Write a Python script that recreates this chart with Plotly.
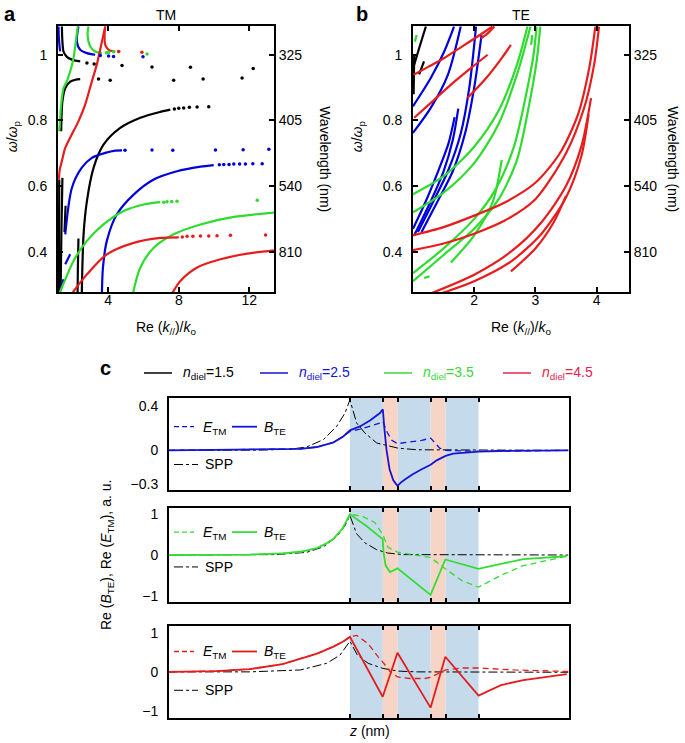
import plotly.graph_objects as go

W, H = 685, 743
FONT = "Liberation Sans, Arial, sans-serif"

BLACK, BLUE, GREEN, RED = "#000000", "#0000dc", "#2edc2e", "#e81c1c"

# ---------------- Panel a (TM): Re(k//)/ko vs w/wp ----------------
tm_black_1_k = [2.50, 2.60, 2.79, 3.17, 3.73, 4.68, 5.82, 6.95, 7.52]
tm_black_1_w = [0.273, 0.453, 0.554, 0.656, 0.726, 0.777, 0.808, 0.826, 0.833]
tm_black_1_dots_k = [7.75, 8.0, 8.28, 8.6, 9.04, 9.70]
tm_black_1_dots_w = [0.835, 0.837, 0.838, 0.840, 0.841, 0.842]
tm_black_2_k = [2.26, 2.28, 2.31]
tm_black_2_w = [0.273, 0.36, 0.44]
tm_black_3_k = [1.33, 1.40, 1.56, 1.84, 2.13, 2.41]
tm_black_3_w = [0.767, 0.858, 0.898, 0.918, 0.924, 0.926]
tm_black_3_dots_k = [3.45, 4.11, 7.71, 9.38, 11.59]
tm_black_3_dots_w = [0.926, 0.922, 0.922, 0.926, 0.929]
tm_black_4_k = [1.37, 1.40, 1.46, 1.60, 1.74, 2.13, 2.41]
tm_black_4_w = [1.086, 1.04, 1.010, 0.997, 0.990, 0.982, 0.980]
tm_black_4_dots_k = [2.79, 3.2, 4.78, 6.48, 8.66, 12.22]
tm_black_4_dots_w = [0.975, 0.972, 0.967, 0.963, 0.962, 0.958]
tm_black_5_k = [1.20, 1.21, 1.22]
tm_black_5_w = [0.276, 0.45, 0.62]
tm_black_6_k = [1.30, 1.34, 1.40]
tm_black_6_w = [0.28, 0.45, 0.625]
tm_black_7_k = [1.52, 1.58]
tm_black_7_w = [0.46, 0.54]

tm_blue_1_k = [3.64, 3.70, 3.92, 4.49, 5.44, 6.58, 7.90, 9.23, 9.98]
tm_blue_1_w = [0.273, 0.352, 0.433, 0.514, 0.574, 0.620, 0.645, 0.659, 0.664]
tm_blue_1_dots_k = [10.3, 10.55, 10.85, 11.12, 11.45, 11.78, 12.2, 12.73]
tm_blue_1_dots_w = [0.665, 0.666, 0.666, 0.667, 0.667, 0.667, 0.668, 0.668]
tm_blue_2_k = [1.56, 1.94, 2.50, 3.07, 3.83, 4.40, 4.78]
tm_blue_2_w = [0.453, 0.595, 0.656, 0.686, 0.701, 0.708, 0.709]
tm_blue_2_dots_k = [4.95, 6.48, 7.66, 10.08, 11.65, 13.11]
tm_blue_2_dots_w = [0.709, 0.710, 0.709, 0.710, 0.711, 0.712]
tm_blue_3_k = [1.56, 1.84]
tm_blue_3_w = [0.362, 0.392]
tm_blue_4_k = [1.18, 1.27, 1.46]
tm_blue_4_w = [0.276, 0.28, 0.316]
tm_blue_5_k = [1.18, 1.20, 1.27]
tm_blue_5_w = [1.086, 1.05, 1.01]
tm_blue_6_k = [2.31, 2.22, 2.41, 2.79, 3.26]
tm_blue_6_w = [1.086, 1.040, 1.015, 1.005, 1.0]
tm_blue_6_dots_k = [3.55, 4.02, 4.30, 5.97]
tm_blue_6_dots_w = [0.998, 0.996, 0.995, 0.994]

tm_green_1_k = [1.25, 1.37, 2.03, 2.79, 3.73, 4.87, 6.01, 6.95]
tm_green_1_w = [0.276, 0.291, 0.372, 0.433, 0.483, 0.524, 0.544, 0.551]
tm_green_1_dots_k = [7.15, 7.33, 7.6, 7.90, 12.45]
tm_green_1_dots_w = [0.551, 0.552, 0.553, 0.554, 0.557]
tm_green_2_k = [5.40, 5.82, 6.58, 7.71, 9.23, 11.12, 13.43]
tm_green_2_w = [0.273, 0.352, 0.412, 0.453, 0.483, 0.506, 0.519]
tm_green_3_k = [1.22, 1.27, 1.30, 1.33, 1.46, 1.65, 1.84, 2.03, 2.16, 2.27]
tm_green_3_w = [0.767, 0.80, 0.83, 0.848, 0.898, 0.919, 0.949, 0.990, 1.040, 1.086]
tm_green_4_k = [2.88, 2.83, 2.98, 3.26, 3.64]
tm_green_4_w = [1.086, 1.061, 1.025, 1.010, 1.005]
tm_green_4_dots_k = [3.9, 4.02, 4.30, 4.59, 6.2]
tm_green_4_dots_w = [1.006, 1.008, 1.009, 1.01, 1.002]

tm_red_1_k = [1.20, 1.25, 1.37, 1.56, 1.93, 2.31, 2.69, 3.07, 3.35, 3.64, 3.83]
tm_red_1_w = [0.62, 0.65, 0.676, 0.716, 0.757, 0.797, 0.848, 0.919, 0.97, 1.04, 1.086]
tm_red_2_k = [3.83, 3.79, 3.83, 4.02, 4.40]
tm_red_2_w = [1.086, 1.061, 1.030, 1.015, 1.010]
tm_red_2_dots_k = [4.59, 5.91]
tm_red_2_dots_w = [1.01, 1.008]
tm_red_3_k = [1.94, 2.79, 3.92, 5.44, 6.95, 8.0]
tm_red_3_w = [0.273, 0.331, 0.392, 0.427, 0.442, 0.444]
tm_red_3_dots_k = [8.2, 8.47, 8.8, 9.23, 9.7, 10.17, 10.93, 12.92]
tm_red_3_dots_w = [0.445, 0.447, 0.447, 0.448, 0.448, 0.449, 0.450, 0.451]
tm_red_4_k = [7.62, 8.09, 9.04, 10.36, 11.88, 13.43]
tm_red_4_w = [0.273, 0.311, 0.352, 0.377, 0.394, 0.404]

# ---------------- Panel b (TE) ----------------
te_black_1_k = [1.02, 1.10, 1.21]
te_black_1_w = [0.97, 1.02, 1.086]
te_black_2_k = [1.10, 1.18]
te_black_2_w = [0.94, 0.98]
te_black_3_k = [1.01, 1.02]
te_black_3_w = [0.88, 1.0]

te_blue_1_k = [1.0, 1.29, 1.51, 1.67]
te_blue_1_w = [0.843, 0.929, 1.010, 1.086]
te_blue_2_k = [1.0, 1.29, 1.57, 1.78]
te_blue_2_w = [0.762, 0.838, 0.939, 1.086]
te_blue_3_k = [1.02, 1.29, 1.50, 1.65, 1.74]
te_blue_3_w = [0.45, 0.554, 0.645, 0.74, 0.836]
te_blue_4_k = [1.00, 1.20, 1.41, 1.58, 1.68]
te_blue_4_w = [0.47, 0.55, 0.645, 0.73, 0.81]
te_blue_5_k = [1.08, 1.35, 1.57, 1.78, 1.92, 2.03]
te_blue_5_w = [0.46, 0.56, 0.645, 0.76, 0.90, 1.086]
te_blue_6_k = [1.14, 1.42, 1.65, 1.85, 2.00, 2.12]
te_blue_6_w = [0.46, 0.56, 0.645, 0.76, 0.90, 1.06]

te_red_1_k = [1.01, 1.25, 1.51, 1.8, 2.05, 2.3]
te_red_1_w = [0.939, 0.963, 0.99, 1.025, 1.055, 1.086]
te_red_2_k = [1.02, 1.3, 1.62, 1.95, 2.22]
te_red_2_w = [0.808, 0.855, 0.909, 0.96, 1.0]
te_red_3_k = [1.89, 2.2, 2.45, 2.60]
te_red_3_w = [0.868, 0.93, 0.99, 1.03]
te_red_4_k = [2.11, 2.22, 2.33]
te_red_4_w = [1.05, 1.065, 1.086]
te_red_5_k = [1.0, 1.5, 2.0, 2.5, 3.0, 3.4, 3.7, 3.88, 3.98]
te_red_5_w = [0.45, 0.475, 0.51, 0.55, 0.61, 0.70, 0.82, 0.96, 1.086]
te_red_6_k = [1.0, 1.5, 2.0, 2.5, 3.0, 3.5, 3.8, 3.96, 4.04]
te_red_6_w = [0.405, 0.425, 0.455, 0.495, 0.56, 0.70, 0.84, 0.97, 1.086]
te_red_7_k = [1.29, 2.0, 2.6, 3.1, 3.5, 3.75, 3.91]
te_red_7_w = [0.273, 0.33, 0.40, 0.49, 0.60, 0.72, 0.868]
te_red_8_k = [1.46, 2.0, 2.6, 3.1, 3.5, 3.75, 3.87]
te_red_8_w = [0.273, 0.31, 0.37, 0.455, 0.565, 0.69, 0.818]
te_red_9_k = [2.60, 3.0, 3.3, 3.5]
te_red_9_w = [0.34, 0.41, 0.49, 0.57]

te_green_1_k = [1.0, 1.5, 2.0, 2.4, 2.7, 2.87]
te_green_1_w = [0.575, 0.63, 0.72, 0.83, 0.97, 1.086]
te_green_2_k = [1.0, 1.5, 2.0, 2.4, 2.7, 2.92]
te_green_2_w = [0.52, 0.58, 0.67, 0.79, 0.94, 1.086]
te_green_3_k = [1.0, 1.5, 2.0, 2.4, 2.7, 2.9, 3.02, 3.08]
te_green_3_w = [0.31, 0.39, 0.47, 0.56, 0.68, 0.85, 0.98, 1.086]
te_green_4_k = [1.0, 1.5, 2.0, 2.35, 2.65, 2.85, 2.97, 3.02]
te_green_4_w = [0.335, 0.41, 0.50, 0.59, 0.72, 0.88, 1.0, 1.086]
te_green_5_k = [1.62, 2.0, 2.3, 2.45]
te_green_5_w = [0.367, 0.45, 0.55, 0.68]
te_green_6_k = [1.18, 1.27]
te_green_6_w = [0.32, 0.325]
te_green_7_k = [1.03, 1.06]
te_green_7_w = [1.04, 1.06]
te_green_8_k = [2.93, 2.95]
te_green_8_w = [1.03, 1.06]

omega_ticks = [0.4, 0.6, 0.8, 1.0]
omega_labels = ["0.4", "0.6", "0.8", "1"]
wavelength_labels = ["810", "540", "405", "325"]

# ---------------- Panel c: field profiles ----------------
layer_edges = [0, 22, 32, 54, 64, 86]
layer_kind = ["diel", "metal", "diel", "metal", "diel"]

c1_bte_z = [-121, -67, -33, -22, -11, -4.5, 0, 6.7, 13.4, 20.1, 22, 23, 24.5, 26.5, 29, 31.8,
            34, 37, 42, 48, 54, 58, 64, 69, 86, 100, 120, 146]
c1_bte_v = [0, 0.006, 0.013, 0.03, 0.072, 0.125, 0.18, 0.215, 0.269, 0.335, 0.37, 0.2, 0.0, -0.17,
            -0.27, -0.32, -0.29, -0.26, -0.215, -0.17, -0.13, -0.09, -0.05, -0.03, -0.012, -0.006, -0.002, 0]
c1_etm_z = [-121, -67, -33, -22, -11, -4.5, 0, 6.7, 13.4, 20, 22, 25, 28, 31.8, 40, 48, 54, 57, 60, 64, 86, 146]
c1_etm_v = [0, 0.006, 0.013, 0.03, 0.072, 0.125, 0.17, 0.19, 0.215, 0.245, 0.26, 0.16, 0.09, 0.06,
            0.075, 0.09, 0.11, 0.06, 0.02, 0.0, -0.01, 0]
c1_spp_z = [-121, -60, -40, -29, -17.8, -8.9, -3.3, 0, 4.5, 10, 17.9, 22.4, 32, 45, 146]
c1_spp_v = [0, 0.002, 0.01, 0.03, 0.096, 0.215, 0.335, 0.454, 0.245, 0.156, 0.066, 0.05, 0.02, 0.005, 0]

c2_bte_z = [-121, -67, -45, -33, -22, -15, -11, -5, 0, 10.8, 21.9, 22.5, 23.9, 26.8, 31.8, 53.9, 63.8, 86,
            101, 116, 145]
c2_bte_v = [0, 0.01, 0.04, 0.08, 0.17, 0.3, 0.4, 0.65, 1.0, 0.72, 0.39, 0.05, -0.26, -0.42, -0.33, -0.98,
            -0.11, -0.34, -0.22, -0.10, -0.03]
c2_etm_z = [-121, -67, -45, -33, -22, -15, -11, -5, 0, 7.9, 16.6, 21.9, 25.4, 31.8, 39.9, 53.9, 63.8, 74.9,
            86, 101, 116, 145]
c2_etm_v = [0, 0.01, 0.04, 0.08, 0.17, 0.3, 0.4, 0.65, 1.0, 0.96, 0.80, 0.51, 0.19, 0.07, 0.02, -0.06,
            -0.34, -0.63, -0.79, -0.50, -0.26, -0.03]
c2_spp_z = [-121, -50, -29, -17.8, -8.9, -3.3, 0, 4.5, 10, 17.9, 25, 35, 146]
c2_spp_v = [0, 0.01, 0.065, 0.2, 0.45, 0.72, 0.97, 0.52, 0.3, 0.13, 0.05, 0.01, 0]

c3_bte_z = [-121, -90, -67, -45, -22, -11, -4.5, 0, 21.9, 31.8, 53.9, 63.8, 86, 101, 116, 145]
c3_bte_v = [0, 0.02, 0.07, 0.2, 0.47, 0.65, 0.78, 0.9, -0.64, 0.49, -0.92, 0.39, -0.61, -0.34, -0.21, -0.06]
c3_etm_z = [-121, -90, -67, -45, -22, -11, -4.5, 0, 4.5, 12, 19, 22, 27, 31.8, 40, 50, 54, 60, 64, 75, 86,
            110, 146]
c3_etm_v = [0, 0.02, 0.07, 0.2, 0.47, 0.65, 0.78, 0.9, 0.94, 0.73, 0.38, 0.25, 0.0, -0.13, -0.17, -0.17,
            -0.14, -0.02, 0.05, 0.1, 0.1, 0.05, 0.01]
c3_spp_z = [-121, -67, -33, -15.6, -6.7, -1.1, 0, 5, 12.2, 22, 32, 45, 146]
c3_spp_v = [0, 0.0, 0.05, 0.22, 0.43, 0.72, 0.79, 0.43, 0.22, 0.09, 0.02, 0.0, -0.01]

n_diel_labels = ["1.5", "2.5", "3.5", "4.5"]

# ---------------------------------------------------------------
fig = go.Figure()


def line(k, w, color, xa, ya, width=2.2, shape="spline"):
    fig.add_trace(go.Scatter(x=k, y=w, mode="lines", xaxis=xa, yaxis=ya, showlegend=False,
                             hoverinfo="skip",
                             line=dict(color=color, width=width, shape=shape, smoothing=0.8)))


def dots(k, w, color, xa, ya):
    fig.add_trace(go.Scatter(x=k, y=w, mode="markers", xaxis=xa, yaxis=ya, showlegend=False,
                             hoverinfo="skip", marker=dict(color=color, size=3.5)))


tm_lines = [
    (tm_black_1_k, tm_black_1_w, BLACK), (tm_black_2_k, tm_black_2_w, BLACK),
    (tm_black_3_k, tm_black_3_w, BLACK), (tm_black_4_k, tm_black_4_w, BLACK),
    (tm_black_5_k, tm_black_5_w, BLACK), (tm_black_6_k, tm_black_6_w, BLACK),
    (tm_black_7_k, tm_black_7_w, BLACK),
    (tm_blue_1_k, tm_blue_1_w, BLUE), (tm_blue_2_k, tm_blue_2_w, BLUE),
    (tm_blue_3_k, tm_blue_3_w, BLUE), (tm_blue_4_k, tm_blue_4_w, BLUE),
    (tm_blue_5_k, tm_blue_5_w, BLUE), (tm_blue_6_k, tm_blue_6_w, BLUE),
    (tm_green_1_k, tm_green_1_w, GREEN), (tm_green_2_k, tm_green_2_w, GREEN),
    (tm_green_3_k, tm_green_3_w, GREEN), (tm_green_4_k, tm_green_4_w, GREEN),
    (tm_red_1_k, tm_red_1_w, RED), (tm_red_2_k, tm_red_2_w, RED),
    (tm_red_3_k, tm_red_3_w, RED), (tm_red_4_k, tm_red_4_w, RED),
]
tm_dots = [
    (tm_black_1_dots_k, tm_black_1_dots_w, BLACK), (tm_black_3_dots_k, tm_black_3_dots_w, BLACK),
    (tm_black_4_dots_k, tm_black_4_dots_w, BLACK),
    (tm_blue_1_dots_k, tm_blue_1_dots_w, BLUE), (tm_blue_2_dots_k, tm_blue_2_dots_w, BLUE),
    (tm_blue_6_dots_k, tm_blue_6_dots_w, BLUE),
    (tm_green_1_dots_k, tm_green_1_dots_w, GREEN), (tm_green_4_dots_k, tm_green_4_dots_w, GREEN),
    (tm_red_2_dots_k, tm_red_2_dots_w, RED), (tm_red_3_dots_k, tm_red_3_dots_w, RED),
]
for k, w, c in tm_lines:
    line(k, w, c, "x", "y")
for k, w, c in tm_dots:
    dots(k, w, c, "x", "y")

te_lines = [
    (te_black_1_k, te_black_1_w, BLACK), (te_black_2_k, te_black_2_w, BLACK), (te_black_3_k, te_black_3_w, BLACK),
    (te_blue_1_k, te_blue_1_w, BLUE), (te_blue_2_k, te_blue_2_w, BLUE), (te_blue_3_k, te_blue_3_w, BLUE),
    (te_blue_4_k, te_blue_4_w, BLUE), (te_blue_5_k, te_blue_5_w, BLUE), (te_blue_6_k, te_blue_6_w, BLUE),
    (te_green_1_k, te_green_1_w, GREEN), (te_green_2_k, te_green_2_w, GREEN), (te_green_3_k, te_green_3_w, GREEN),
    (te_green_4_k, te_green_4_w, GREEN), (te_green_5_k, te_green_5_w, GREEN), (te_green_6_k, te_green_6_w, GREEN),
    (te_green_7_k, te_green_7_w, GREEN), (te_green_8_k, te_green_8_w, GREEN),
    (te_red_1_k, te_red_1_w, RED), (te_red_2_k, te_red_2_w, RED), (te_red_3_k, te_red_3_w, RED),
    (te_red_4_k, te_red_4_w, RED), (te_red_5_k, te_red_5_w, RED), (te_red_6_k, te_red_6_w, RED),
    (te_red_7_k, te_red_7_w, RED), (te_red_8_k, te_red_8_w, RED), (te_red_9_k, te_red_9_w, RED),
]
for k, w, c in te_lines:
    line(k, w, c, "x2", "y3")

# invisible anchors so the right-hand axes are drawn
fig.add_trace(go.Scatter(x=[5], y=[0.5], mode="markers", xaxis="x", yaxis="y2", showlegend=False,
                         hoverinfo="skip", marker=dict(opacity=0)))
fig.add_trace(go.Scatter(x=[2], y=[0.5], mode="markers", xaxis="x2", yaxis="y4", showlegend=False,
                         hoverinfo="skip", marker=dict(opacity=0)))

C_BLUE, C_GREEN, C_RED = "#1515d6", "#33dd33", "#e41c1c"
c_sets = [
    ("x3", "y5", C_BLUE, c1_bte_z, c1_bte_v, c1_etm_z, c1_etm_v, c1_spp_z, c1_spp_v),
    ("x4", "y6", C_GREEN, c2_bte_z, c2_bte_v, c2_etm_z, c2_etm_v, c2_spp_z, c2_spp_v),
    ("x5", "y7", C_RED, c3_bte_z, c3_bte_v, c3_etm_z, c3_etm_v, c3_spp_z, c3_spp_v),
]
for xa, ya, col, bz, bv, ez, ev, sz, sv in c_sets:
    fig.add_trace(go.Scatter(x=sz, y=sv, mode="lines", xaxis=xa, yaxis=ya, showlegend=False, hoverinfo="skip",
                             line=dict(color="black", width=1, dash="dashdot")))
    fig.add_trace(go.Scatter(x=ez, y=ev, mode="lines", xaxis=xa, yaxis=ya, showlegend=False, hoverinfo="skip",
                             line=dict(color=col, width=1.3, dash="6px,4px")))
    fig.add_trace(go.Scatter(x=bz, y=bv, mode="lines", xaxis=xa, yaxis=ya, showlegend=False, hoverinfo="skip",
                             line=dict(color=col, width=1.8)))


def dom_x(a, b):
    return [a / W, b / W]


def dom_y(top, bottom):
    return [1 - bottom / H, 1 - top / H]


tickfont = dict(family=FONT, size=14, color="black")
ax_common = dict(showgrid=False, zeroline=False, showline=True, linecolor="black", linewidth=2,
                 ticks="inside", ticklen=5, tickwidth=1.5, tickcolor="black", tickfont=tickfont)

yr = [0.276, 1.088]
layout = dict(
    width=W, height=H, margin=dict(l=0, r=0, t=0, b=0),
    paper_bgcolor="white", plot_bgcolor="white", showlegend=False,
    font=dict(family=FONT, color="black"),
    xaxis=dict(domain=dom_x(58, 274), anchor="y", range=[1.15, 13.4], tickvals=[4, 8, 12],
               mirror="ticks", ticklabelstandoff=-6, **ax_common),
    yaxis=dict(domain=dom_y(24, 292), anchor="x", range=yr, tickvals=omega_ticks, ticktext=omega_labels,
               ticklabelstandoff=6, **ax_common),
    yaxis2=dict(overlaying="y", anchor="x", side="right", range=yr, tickvals=omega_ticks,
                ticktext=wavelength_labels, ticklabelstandoff=0, **ax_common),
    xaxis2=dict(domain=dom_x(413, 629), anchor="y3", range=[1.0, 4.53], tickvals=[2, 3, 4],
                mirror="ticks", ticklabelstandoff=-6, **ax_common),
    yaxis3=dict(domain=dom_y(24, 292), anchor="x2", range=yr, tickvals=omega_ticks, ticktext=omega_labels,
                ticklabelstandoff=6, **ax_common),
    yaxis4=dict(overlaying="y3", anchor="x2", side="right", range=yr, tickvals=omega_ticks,
                ticktext=wavelength_labels, ticklabelstandoff=0, **ax_common),
)

c_dom = [(398, 491, [-0.36, 0.472], [-0.3, 0, 0.4], ["\u22120.3", "0", "0.4"]),
         (509, 603, [-1.15, 1.15], [-1, 0, 1], ["\u22121", "0", "1"]),
         (627, 720, [-1.19, 1.19], [-1, 0, 1], ["\u22121", "0", "1"])]
ctick = dict(family=FONT, size=14, color="black")
for i, (top, bot, rng, tv, tt) in enumerate(c_dom):
    xi, yi = i + 3, i + 5
    layout[f"xaxis{xi}"] = dict(domain=dom_x(169, 569), anchor=f"y{yi}", range=[-121, 146.5],
                                tickvals=layer_edges, showticklabels=False, showgrid=False, zeroline=False,
                                showline=True, linecolor="black", linewidth=2, mirror="ticks",
                                ticks="inside", ticklen=4, tickwidth=1.5, tickcolor="black")
    layout[f"yaxis{yi}"] = dict(domain=dom_y(top, bot), anchor=f"x{xi}", range=rng, tickvals=tv, ticktext=tt,
                                showgrid=False, zeroline=False, showline=True, linecolor="black", linewidth=2,
                                mirror=True, ticks="", tickfont=ctick, ticklabelstandoff=6)

fig.update_layout(**layout)

# shaded dielectric / metal layers
shapes = []
for i in range(3):
    xr, yr_ = f"x{i + 3}", f"y{i + 5} domain"
    for j, kind in enumerate(layer_kind):
        shapes.append(dict(type="rect", xref=xr, yref=yr_, x0=layer_edges[j], x1=layer_edges[j + 1],
                           y0=0, y1=1, layer="below", line=dict(width=0),
                           fillcolor="#c5dbec" if kind == "diel" else "#f6d4c6"))


def pline(x0, x1, py, color, width=1.5, dash="solid"):
    shapes.append(dict(type="line", xref="paper", yref="paper", x0=x0 / W, x1=x1 / W,
                       y0=1 - py / H, y1=1 - py / H, line=dict(color=color, width=width, dash=dash)))


annotations = []


def ptext(px, py, text, size=14, color="black", xanchor="left", yanchor="middle", angle=0, bold=False):
    if bold:
        text = f"<b>{text}</b>"
    annotations.append(dict(xref="paper", yref="paper", x=px / W, y=1 - py / H, text=text, showarrow=False,
                            xanchor=xanchor, yanchor=yanchor, textangle=angle,
                            font=dict(family=FONT, size=size, color=color)))


# panel labels / titles
ptext(2, 12, "a", size=20, bold=True)
ptext(354, 12, "b", size=20, bold=True)
ptext(98, 368, "c", size=20, bold=True)
ptext(166, 13, "TM", xanchor="center")
ptext(521, 13, "TE", xanchor="center")
for cx in (166, 521):
    ptext(cx, 328, "Re (<i>k</i><sub>//</sub>)/<i>k</i><sub>o</sub>", xanchor="center")
for cx in (13, 358):
    ptext(cx, 135, "<i>ω</i>/<i>ω</i><sub>p</sub>", xanchor="center", angle=-90)
for cx in (325, 673):
    ptext(cx, 158, "Wavelength (nm)", xanchor="center", angle=90)

# top legend of panel c
legend_cols = [BLACK, "#1414d2", "#3ad83a", "#e5254d"]
legend_x = [144, 260, 384, 503]
for lx, col, lab in zip(legend_x, legend_cols, n_diel_labels):
    pline(lx, lx + 28, 373, col if col != BLACK else "black", width=1.5)
    ptext(lx + 37, 373, f"<i>n</i><sub>diel</sub>={lab}", color=col)

# in-panel legends of panel c
c_leg = [(427, 465, C_BLUE), (533, 568, C_GREEN), (653, 692, C_RED)]
for pyE, pyS, col in c_leg:
    pline(174, 194, pyE, col, width=1.3, dash="5px,3px")
    ptext(201, pyE + 1, "<i>E</i><sub>TM</sub>")
    pline(232, 257, pyE, col, width=1.8)
    ptext(262, pyE + 1, "<i>B</i><sub>TE</sub>")
    pline(174, 198, pyS, "black", width=1, dash="dashdot")
    ptext(203, pyS, "SPP")

ptext(107, 556, "Re (<i>B</i><sub>TE</sub>), Re (<i>E</i><sub>TM</sub>), a. u.", xanchor="center", angle=-90)
ptext(369, 733, "<i>z</i> (nm)", xanchor="center")

fig.update_layout(shapes=shapes, annotations=annotations)
fig.write_html("out.html", config={"displayModeBar": False},
               post_script="document.body.style.margin='0';document.body.style.overflow='hidden';")
